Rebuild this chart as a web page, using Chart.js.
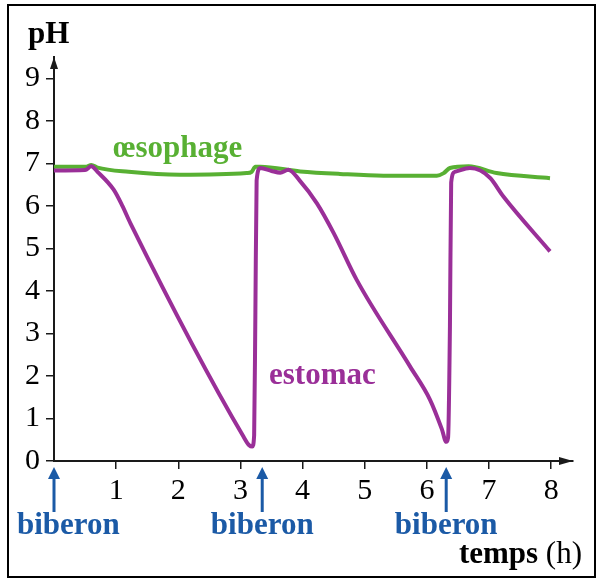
<!DOCTYPE html>
<html>
<head>
<meta charset="utf-8">
<script src="https://cdn.jsdelivr.net/npm/chart.js@4"></script>
<style>
  body { margin: 0; background: #fff; }
  canvas { display: block; }
</style>
</head>
<body>
<canvas id="chart" width="601" height="581"></canvas>
<script>
// pH in the stomach (estomac) and oesophagus (œsophage) over time
const estomacTemps = [0, 0.5, 0.6, 0.7, 0.96, 1.1, 1.23, 3.05, 3.14, 3.19, 3.22, 3.24, 3.26, 3.32, 3.5, 3.64, 3.77, 3.95, 4.23, 4.5, 4.87, 5.73, 6.05, 6.24, 6.31, 6.34, 6.37, 6.39, 6.45, 6.69, 6.86, 7.02, 7.23, 7.98];
const estomacPH = [6.83, 6.84, 6.93, 6.8, 6.38, 6.0, 5.59, 0.57, 0.37, 0.34, 0.6, 3.5, 6.6, 6.89, 6.82, 6.78, 6.85, 6.6, 6.06, 5.36, 4.26, 2.22, 1.44, 0.75, 0.45, 0.55, 3.16, 6.55, 6.8, 6.89, 6.83, 6.65, 6.22, 4.93];

const oesophageTemps = [0, 0.52, 0.6, 0.7, 1.2, 2.03, 3.1, 3.18, 3.24, 3.32, 3.96, 4.6, 5.3, 6.16, 6.27, 6.37, 6.67, 7.12, 7.98];
const oesophagePH = [6.92, 6.92, 6.96, 6.9, 6.8, 6.73, 6.77, 6.8, 6.92, 6.92, 6.81, 6.75, 6.71, 6.71, 6.77, 6.89, 6.93, 6.77, 6.65];

const biberonTemps = [0, 3.35, 6.31];

const xTicks = [1, 2, 3, 4, 5, 6, 7, 8];
const xTickLabels = ["1", "2", "3", "4", "5", "6", "7", "8"];
const yTicks = [0, 1, 2, 3, 4, 5, 6, 7, 8, 9];
const yTickLabels = ["0", "1", "2", "3", "4", "5", "6", "7", "8", "9"];

const PURPLE = "#9a2f98";
const GREEN = "#58b033";
const BLUE = "#1b5aa6";
const INK = "#1a1a1a";
const SERIF = "'Liberation Serif', 'Times New Roman', serif";

const toPoints = (xs, ys) => xs.map((x, i) => ({ x, y: ys[i] }));

const annotations = {
  id: "annotations",
  afterDraw(chart) {
    const { ctx, chartArea, scales: { x, y } } = chart;
    const x0 = x.getPixelForValue(0);
    const y0 = y.getPixelForValue(0);
    ctx.save();

    // frame
    ctx.strokeStyle = "#000";
    ctx.lineWidth = 2;
    ctx.strokeRect(8, 5, 587, 572);

    // axis arrow heads
    ctx.fillStyle = INK;
    ctx.beginPath();
    ctx.moveTo(x0, chartArea.top);
    ctx.lineTo(x0 - 4, chartArea.top + 12);
    ctx.lineTo(x0 + 4, chartArea.top + 12);
    ctx.closePath();
    ctx.fill();
    ctx.beginPath();
    ctx.moveTo(chartArea.right, y0);
    ctx.lineTo(chartArea.right - 14, y0 - 4);
    ctx.lineTo(chartArea.right - 14, y0 + 4);
    ctx.closePath();
    ctx.fill();

    // axis titles
    ctx.fillStyle = "#000";
    ctx.textBaseline = "alphabetic";
    ctx.textAlign = "left";
    ctx.font = "bold 31px " + SERIF;
    ctx.fillText("pH", 28, 43);

    ctx.textAlign = "right";
    ctx.font = "31px " + SERIF;
    const hw = ctx.measureText(" (h)").width;
    ctx.fillText(" (h)", 582, 563);
    ctx.font = "bold 31px " + SERIF;
    ctx.fillText("temps", 582 - hw, 563);

    // series labels
    ctx.textAlign = "left";
    ctx.fillStyle = GREEN;
    ctx.fillText("œsophage", 113, 157);
    ctx.fillStyle = PURPLE;
    ctx.fillText("estomac", 269, 384);

    // biberon arrows, the first label kept inside the frame
    ctx.fillStyle = BLUE;
    ctx.strokeStyle = BLUE;
    ctx.textAlign = "center";
    const tw = ctx.measureText("biberon").width;
    biberonTemps.forEach((t) => {
      const px = x.getPixelForValue(t);
      ctx.lineWidth = 3;
      ctx.beginPath();
      ctx.moveTo(px, 512);
      ctx.lineTo(px, 476);
      ctx.stroke();
      ctx.beginPath();
      ctx.moveTo(px, 467);
      ctx.lineTo(px - 6, 479);
      ctx.lineTo(px + 6, 479);
      ctx.closePath();
      ctx.fill();
      ctx.fillText("biberon", Math.max(px, 17 + tw / 2), 534);
    });

    ctx.restore();
  },
};

new Chart(document.getElementById("chart"), {
  type: "line",
  data: {
    datasets: [
      {
        label: "estomac",
        data: toPoints(estomacTemps, estomacPH),
        borderColor: PURPLE,
        borderWidth: 4,
        pointRadius: 0,
        cubicInterpolationMode: "monotone",
        fill: false,
      },
      {
        label: "œsophage",
        data: toPoints(oesophageTemps, oesophagePH),
        borderColor: GREEN,
        borderWidth: 4,
        pointRadius: 0,
        cubicInterpolationMode: "monotone",
        fill: false,
      },
    ],
  },
  options: {
    responsive: false,
    animation: false,
    layout: { padding: { top: 57, right: 28, left: 0, bottom: 0 } },
    plugins: {
      legend: { display: false },
      tooltip: { enabled: false },
    },
    scales: {
      x: {
        type: "linear",
        min: 0,
        max: 8.35,
        afterFit: (scale) => { scale.height = 120; },
        afterBuildTicks: (scale) => { scale.ticks = xTicks.map((v) => ({ value: v })); },
        border: { display: true, color: INK, width: 2 },
        grid: { drawOnChartArea: false, drawTicks: true, tickLength: 8, color: INK, lineWidth: 1.5 },
        ticks: {
          padding: 4,
          color: "#000",
          font: { family: SERIF, size: 30 },
          maxRotation: 0,
          callback: (v) => xTickLabels[xTicks.indexOf(v)],
        },
      },
      y: {
        min: 0,
        max: 9.5,
        afterFit: (scale) => { scale.width = 54; },
        afterBuildTicks: (scale) => { scale.ticks = yTicks.map((v) => ({ value: v })); },
        border: { display: true, color: INK, width: 2 },
        grid: { drawOnChartArea: false, drawTicks: true, tickLength: 8, color: INK, lineWidth: 1.5 },
        ticks: {
          padding: 6,
          color: "#000",
          font: { family: SERIF, size: 30 },
          callback: (v) => yTickLabels[yTicks.indexOf(v)],
        },
      },
    },
  },
  plugins: [annotations],
});
</script>
</body>
</html>
